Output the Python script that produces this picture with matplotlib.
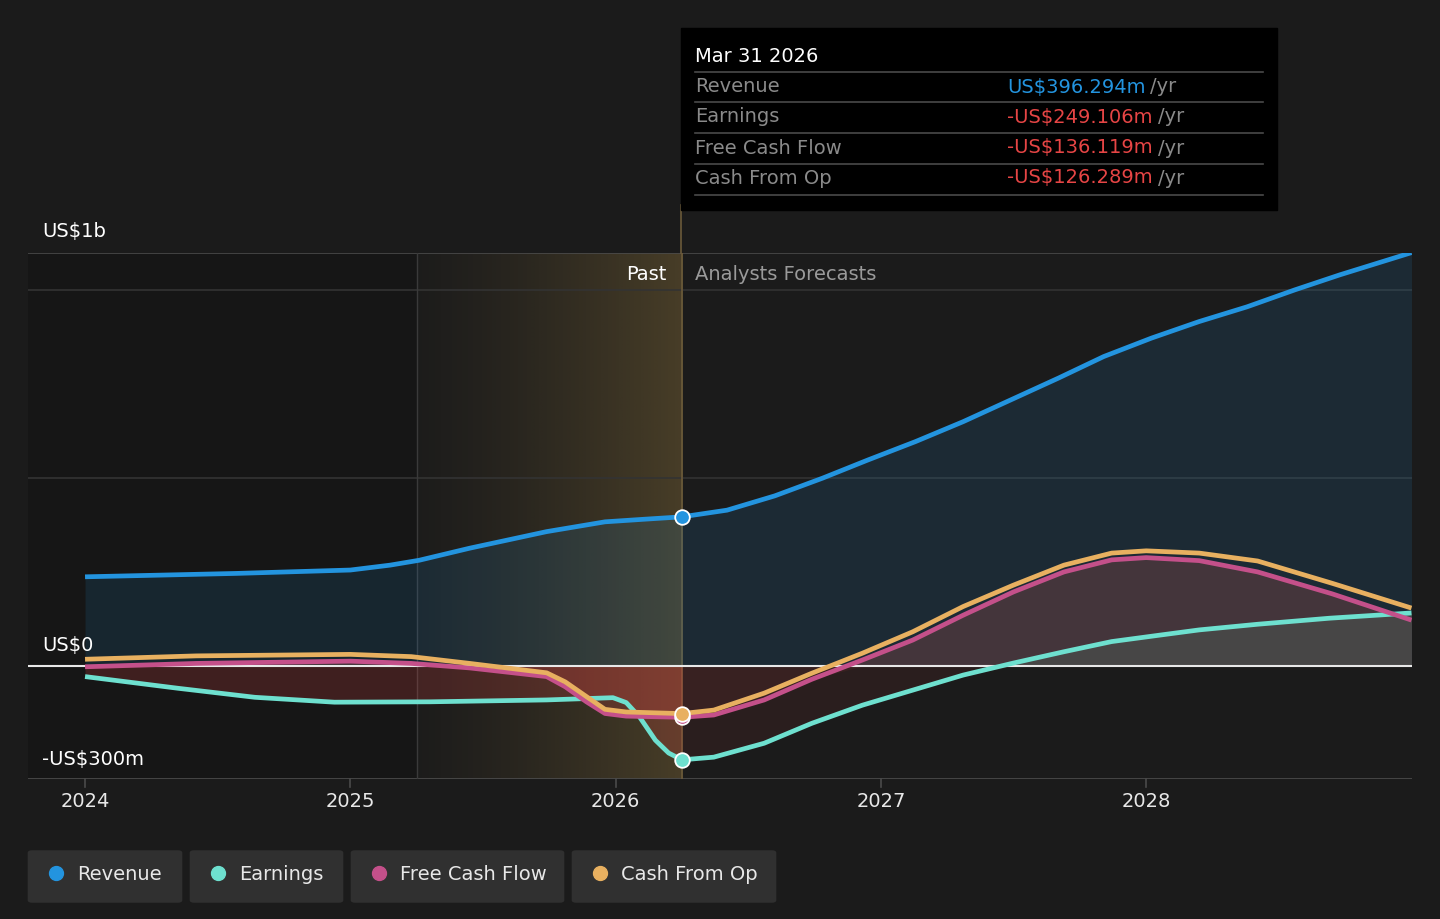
import numpy as np
import matplotlib
matplotlib.use('Agg')
from matplotlib import pyplot as plt
from matplotlib.patches import Rectangle, FancyBboxPatch
from matplotlib.lines import Line2D

# values in US$ millions, dates as decimal years
rev_t = [2024.0, 2024.57, 2025.0, 2025.15, 2025.26, 2025.45, 2025.74, 2025.96, 2026.11, 2026.25,
         2026.42, 2026.6, 2026.78, 2026.95, 2027.13, 2027.31, 2027.49, 2027.67, 2027.84,
         2028.02, 2028.2, 2028.38, 2028.56, 2028.73, 2029.0]
rev_v = [237, 246, 255, 268, 281, 313, 357, 383, 390, 396.294,
         414, 452, 499, 547, 596, 649, 707, 765, 822,
         871, 915, 954, 999, 1039, 1098]

earn_t = [2024.0, 2024.35, 2024.64, 2024.94, 2025.3, 2025.74, 2025.99, 2026.04, 2026.09, 2026.15,
          2026.2, 2026.25, 2026.37, 2026.56, 2026.74, 2026.93, 2027.12, 2027.31, 2027.5, 2027.69,
          2027.87, 2028.05, 2028.2, 2028.42, 2028.69, 2029.0]
earn_v = [-28, -59, -83, -96, -95, -90, -84, -97, -135, -197,
          -231, -249.106, -242, -205, -152, -104, -64, -24, 8, 38,
          65, 82, 96, 111, 127, 141]

cf_t = [2024.0, 2024.42, 2025.0, 2025.23, 2025.45, 2025.74, 2025.81, 2025.89, 2025.96, 2026.04,
        2026.25, 2026.37, 2026.56, 2026.74, 2026.93, 2027.12, 2027.31, 2027.5, 2027.69, 2027.87,
        2028.0, 2028.2, 2028.42, 2028.7, 2029.0]
fcf_v = [-2, 7, 13, 7, -5, -28, -55, -95, -126, -133,
         -136.119, -130, -90, -35, 16, 69, 135, 197, 250, 282,
         288, 280, 250, 192, 122]
cfo_v = [18, 27, 31, 25, 7, -18, -42, -81, -115, -122,
         -126.289, -117, -72, -19, 34, 91, 158, 215, 268, 300,
         306, 300, 279, 220, 154]

years = [2024, 2025, 2026, 2027, 2028]
now = 2026.25
past_start = 2025.25

BG = '#1b1b1b'
C_REV = '#2394df'
C_EARN = '#6ee0cf'
C_FCF = '#c4508a'
C_CFO = '#e8b060'
C_NEG = '#e64545'
FS = 14

W, H = 1440, 919
fig = plt.figure(figsize=(14.4, 9.19), dpi=100, facecolor=BG)


def fx(x):
    return x / W


def fy(y):
    return 1 - y / H


ax = fig.add_axes([fx(28), fy(779), fx(1412) - fx(28), fy(253) - fy(779)])
ax.set_facecolor(BG)
xmin, xmax = 2023.785, 2029.002
ymin, ymax = -300, 1097
ax.set_xlim(xmin, xmax)
ax.set_ylim(ymin, ymax)
for s in ax.spines.values():
    s.set_visible(False)
ax.set_yticks([])
ax.set_xticks([])

# darker area before the past window, golden gradient for the past window
ax.axvspan(xmin, past_start, color='#161616', zorder=0, lw=0)
grad = np.zeros((2, 256, 4))
grad[..., 0] = 200 / 255
grad[..., 1] = 160 / 255
grad[..., 2] = 75 / 255
grad[..., 3] = np.linspace(0.02, 0.26, 256) ** 1.3 / 0.26 ** 0.3
ax.imshow(grad, extent=[past_start, now, ymin, ymax], aspect='auto', zorder=1,
          interpolation='bilinear')

# grid
for yv in [500, 1000]:
    ax.axhline(yv, color='#333333', lw=1.2, zorder=1)
ax.axhline(ymax, color='#4a4a4a', lw=1.2, zorder=1)
ax.axhline(ymin, color='#4a4a4a', lw=2, zorder=1)
ax.axvline(past_start, color='#3a3a3a', lw=1, zorder=2)
ax.axvline(now, color='#6b5a3a', lw=1.2, zorder=2)

# fills
ax.fill_between(rev_t, rev_v, 0, color=C_REV, alpha=0.13, lw=0, zorder=2)
c_t = np.array(cf_t)
f_v = np.array(fcf_v)
ax.fill_between(c_t, f_v, 0, where=f_v >= 0, interpolate=True, color='#e6645a', alpha=0.2, lw=0, zorder=2)
e_t = np.array(earn_t)
e_v = np.array(earn_v)
ax.fill_between(e_t, e_v, 0, where=e_v >= 0, interpolate=True, color='#484848', alpha=0.92, lw=0, zorder=2)
for tt, vv in [(e_t, e_v), (c_t, f_v)]:
    past = tt <= now
    fut = tt >= now
    ax.fill_between(tt[past], np.minimum(vv[past], 0), 0, color=C_NEG, alpha=0.2, lw=0, zorder=2)
    ax.fill_between(tt[fut], np.minimum(vv[fut], 0), 0, color=C_NEG, alpha=0.08, lw=0, zorder=2)

ax.axhline(0, color='#e8e8e8', lw=1.5, zorder=3)

# lines
kw = dict(lw=3.4, solid_capstyle='butt', solid_joinstyle='round')
ax.plot(rev_t, rev_v, color=C_REV, zorder=5, **kw)
ax.plot(earn_t, earn_v, color=C_EARN, zorder=5, **kw)
ax.plot(cf_t, fcf_v, color=C_FCF, zorder=5, **kw)
ax.plot(cf_t, cfo_v, color=C_CFO, zorder=6, **kw)

# markers at now
for v, c in [(396.294, C_REV), (-249.106, C_EARN), (-136.119, C_FCF), (-126.289, C_CFO)]:
    ax.plot([now], [v], 'o', ms=10.5, color=c, mec='white', mew=1.3, zorder=8)

# x ticks
for yr in years:
    ax.plot([yr, yr], [ymin, ymin - 22], color='#4a4a4a', lw=1.2, clip_on=False, zorder=1)
    ax.text(yr, ymin - 60, str(yr), color='#e8e8e8', fontsize=FS, ha='center', va='center')

# y labels
fig.text(fx(42), fy(232), 'US$1b', color='white', fontsize=FS, va='center')
fig.text(fx(42), fy(645), 'US$0', color='white', fontsize=FS, va='center')
fig.text(fx(42), fy(759), '-US$300m', color='white', fontsize=FS, va='center')

fig.text(fx(666), fy(275), 'Past', color='white', fontsize=FS, va='center', ha='right')
fig.text(fx(695), fy(275), 'Analysts Forecasts', color='#9a9a9a', fontsize=FS, va='center')

# now line continuing into the tooltip
fig.add_artist(Line2D([fx(681), fx(681)], [fy(253), fy(205)], color='#6b5a3a', lw=1.2))

# tooltip
fig.add_artist(Rectangle((fx(681), fy(210)), fx(1277) - fx(681), fy(28) - fy(210),
                         transform=fig.transFigure, color='black', zorder=10))
fig.text(fx(695), fy(56), 'Mar 31 2026', color='white', fontsize=FS, va='center', zorder=11)
rows = [('Revenue', 'US$396.294m', C_REV),
        ('Earnings', '-US$249.106m', C_NEG),
        ('Free Cash Flow', '-US$136.119m', C_NEG),
        ('Cash From Op', '-US$126.289m', C_NEG)]
for sep in [72, 102, 133, 164, 195]:
    fig.add_artist(Line2D([fx(695), fx(1263)], [fy(sep), fy(sep)], color='#4a4a4a', lw=1.2, zorder=11))
for i, (name, val, col) in enumerate(rows):
    yc = [87, 117, 148, 178][i]
    fig.text(fx(695), fy(yc), name, color='#8a8a8a', fontsize=FS, va='center', zorder=12)
    t = fig.text(fx(1007), fy(yc), val, color=col, fontsize=FS, va='center', zorder=12)
    fig.canvas.draw()
    bb = t.get_window_extent()
    fig.text(bb.x1 / W + fx(5), fy(yc), '/yr', color='#8a8a8a', fontsize=FS, va='center', zorder=12)

# legend
legend = [('Revenue', C_REV, 28, 182), ('Earnings', C_EARN, 190, 343),
          ('Free Cash Flow', C_FCF, 351, 564), ('Cash From Op', C_CFO, 572, 776)]
for name, col, x0, x1 in legend:
    fig.add_artist(FancyBboxPatch((fx(x0 + 4), fy(904 - 4)), fx(x1 - x0 - 8), fy(849 + 4) - fy(904 - 4),
                                  boxstyle='round,pad=0.003', transform=fig.transFigure,
                                  color='#303030', lw=0))
    fig.add_artist(Line2D([fx(x0 + 28)], [fy(873)], marker='o', ms=10, color=col, lw=0))
    fig.text(fx(x0 + 49), fy(874), name, color='#e8e8e8', fontsize=FS, va='center')

fig.savefig('out.png', dpi=100, facecolor=BG)
